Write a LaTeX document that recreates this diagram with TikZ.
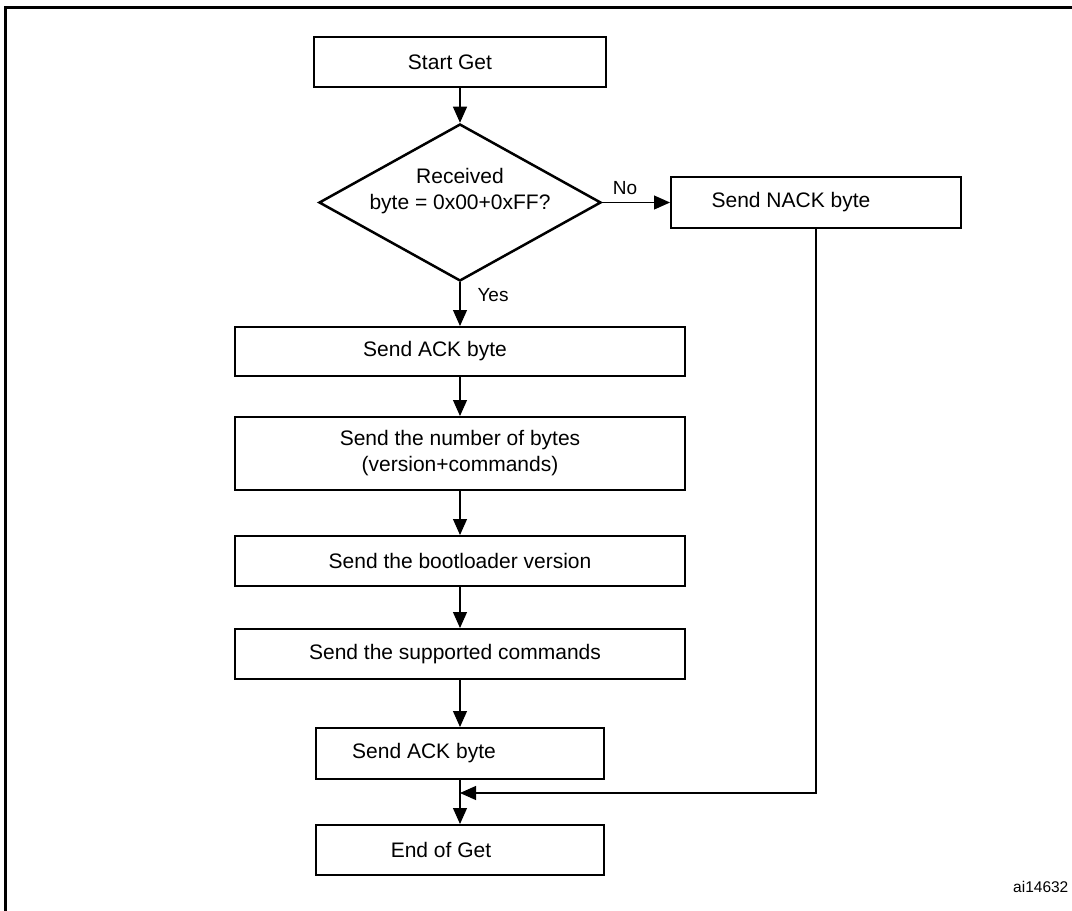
\documentclass[tikz,border=0pt]{standalone}
\usepackage{fontspec}
\setmainfont{Liberation Sans}
\usetikzlibrary{arrows.meta,shapes.geometric}
\begin{document}
\begin{tikzpicture}[x=1pt,y=-1pt,
  every node/.style={font=\fontsize{21}{26}\selectfont},
  stepbox/.style={draw, line width=2pt, inner sep=0pt, align=center},
  decbox/.style={draw, diamond, aspect=1.8, line width=2.5pt, inner sep=0pt},
  txt/.style={inner sep=0pt, align=center},
  arr/.style={line width=1.1pt, -{Triangle[length=16pt,width=14pt]}},
  lbl/.style={inner sep=0pt, font=\fontsize{19}{23}\selectfont}]
  \useasboundingbox (0,0) rectangle (1072,911);
  \begin{scope}
    \clip (0,0) rectangle (1072,911);
    % outer frame
    \draw[line width=3pt] (5.5,7.5) rectangle (1080,920);
  \end{scope}

  % process boxes, main column at x = 460
  \node[stepbox, minimum width=292pt, minimum height=50pt] (start) at (460,62)
    {Start Get\hspace*{20pt}};
  \node[decbox, minimum width=282pt, minimum height=157pt] (dec) at (460,202.5) {};
  \node[txt] (dectext) at (460,191) {Received\\byte = 0x00+0xFF?};
  \node[stepbox, minimum width=290pt, minimum height=51pt] (nack) at (816,202.5)
    {Send NACK byte\hspace*{50pt}};
  \node[stepbox, minimum width=450pt, minimum height=49pt] (ack1) at (460,351.5)
    {Send ACK byte\hspace*{50pt}};
  \node[stepbox, minimum width=450pt, minimum height=73pt] (num) at (460,453.5)
    {Send the number of bytes\\(version+commands)};
  \node[stepbox, minimum width=450pt, minimum height=50pt] (boot) at (460,561)
    {Send the bootloader version};
  \node[stepbox, minimum width=450pt, minimum height=50pt] (sup) at (460,654)
    {Send the supported commands\hspace*{10pt}};
  \node[stepbox, minimum width=288pt, minimum height=51pt] (ack2) at (460,753.5)
    {Send ACK byte\hspace*{72pt}};
  \node[stepbox, minimum width=288pt, minimum height=50pt] (end) at (460,850)
    {End of Get\hspace*{38pt}};

  % connectors
  \coordinate (merge) at (460,793);
  \draw[arr] (start) -- (dec);
  \draw[arr] (dec.east) -- (nack.west);
  \draw[arr] (dec.south) -- (ack1.north);
  \draw[arr] (ack1) -- (num);
  \draw[arr] (num) -- (boot);
  \draw[arr] (boot) -- (sup);
  \draw[arr] (sup) -- (ack2);
  \draw[arr] (ack2) -- (end);
  \draw[arr] (nack.south) |- (merge);

  % branch labels
  \node[lbl] (nolbl) at (625,188) {No};
  \node[lbl] (yeslbl) at (493,295) {Yes};

  % figure reference
  \node[txt, anchor=base west, font=\fontsize{15.5}{18}\selectfont] (figref) at (1013,892) {ai14632};
\end{tikzpicture}
\end{document}
